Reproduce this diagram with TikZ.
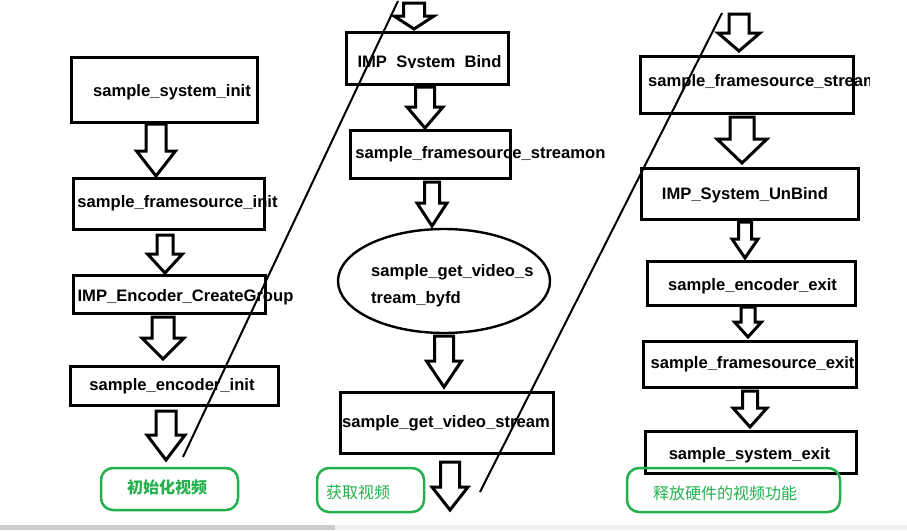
\documentclass[tikz,border=0pt]{standalone}
\usepackage{fontspec}
\newfontfamily\latinfont{Liberation Sans}
\newfontfamily\cjk{Noto Sans CJK SC}
\usepackage{tikz}
\usetikzlibrary{shapes.geometric}
\definecolor{paintgreen}{RGB}{34,177,76}
\tikzset{
 box/.style
  = {rectangle, draw, line width=3pt, inner sep=0pt},
 oval/.style
  = {ellipse, draw, line width=2.4pt, inner sep=0pt},
 txt/.style
  = {inner sep=0pt, anchor=base, font=\latinfont\bfseries\fontsize{16.6}{27}\selectfont},
 note/.style
  = {rectangle, draw=paintgreen, line width=2.5pt, rounded corners=12pt, inner sep=0pt},
 notetxt/.style
  = {inner sep=0pt, text=paintgreen, font=\cjk\fontsize{16}{18}\selectfont},
 arr/.style
  = {draw, line width=3pt, line join=miter, fill=white},
 slash/.style
  = {draw, line width=2pt},
}

\begin{document}
\begin{tikzpicture}[x=1pt,y=-1pt]
\useasboundingbox (0,0) rectangle (907,530);

% scroll bar
\fill[black!20] (0,525) rectangle (335,530);
\fill[black!6] (335,525) rectangle (907,530);

% Column 1
\node[box,minimum width=186pt,minimum height=65pt] (b1) at (164,89.5) {};
\node[txt] (t1) at (172,96.5) {sample\_system\_init};
\node[box,minimum width=191pt,minimum height=51pt] (b2) at (168.5,203.5) {};
\node[txt] (t2) at (177.5,207.5) {sample\_framesource\_init};
\node[box,minimum width=192pt,minimum height=38pt] (b3) at (169,294) {};
\node[txt] (t3) at (185.5,301) {IMP\_Encoder\_CreateGroup};
\node[box,minimum width=208pt,minimum height=39pt] (b4) at (174,385.5) {};
\node[txt] (t4) at (172,390) {sample\_encoder\_init};

% Column 2
\node[box,minimum width=162pt,minimum height=52pt] (m1) at (427,58) {};
\begin{scope}
  \clip (346,32) rectangle (508,67.5);
  \node[txt] (u1) at (429.5,67.5) {IMP\_System\_Bind};
\end{scope}
\node[box,minimum width=160pt,minimum height=48pt] (m2) at (430,154) {};
\node[txt] (u2) at (480.5,158) {sample\_framesource\_streamon};
\node[oval,minimum width=212pt,minimum height=104pt] (m3) at (444,281) {};
\node[txt,align=left,anchor=base west] (u3) at (371,303.5) {sample\_get\_video\_s\\tream\_byfd};
\node[box,minimum width=213pt,minimum height=61pt] (m4) at (446.5,422.5) {};
\node[txt] (u4) at (446,427.5) {sample\_get\_video\_stream};

% Column 3
\node[box,minimum width=213pt,minimum height=57pt] (r1) at (746.5,84.5) {};
\begin{scope}
  \clip (600,50) rectangle (869.5,120);
  \node[txt,anchor=base west] (v1) at (648,86) {sample\_framesource\_streamon};
\end{scope}
\node[box,minimum width=217pt,minimum height=51pt] (r2) at (749.5,193.5) {};
\node[txt] (v2) at (745,199) {IMP\_System\_UnBind};
\node[box,minimum width=208pt,minimum height=44pt] (r3) at (751,283) {};
\node[txt] (v3) at (752.5,290.5) {sample\_encoder\_exit};
\node[box,minimum width=213pt,minimum height=46pt] (r4) at (749.5,364) {};
\node[txt] (v4) at (752.5,368) {sample\_framesource\_exit};
\node[box,minimum width=211pt,minimum height=42pt] (r5) at (750.5,452) {};
\node[txt] (v5) at (749.5,459) {sample\_system\_exit};

% hollow arrows: name/x/top/head base/tip/shaft/head
\foreach \n/\x/\t/\b/\e/\s/\h in {
  a1/156/124/151/176/10/19.5, a2/165/235/254/273/8/17.5,
  a3/163/317/338/359/11/21, a4/166/411/435/460/10/19,
  c0/414/3/16/29/10.5/20, c1/425/87/107/128/9.5/18,
  c2/432/182/203/226/7.5/15, c3/444/336/361/387/9.5/17.5,
  c4/450/462/487/510/9.5/18,
  d0/739/14/33/51/10/21, d1/742/117/139/163/12/25,
  d2/745/222/239/258/6.5/13, d3/748/307/322/337/7/13.5,
  d4/750/391/408/427/7.5/17}
{
  \coordinate (\n top) at (\x,\t);
  \coordinate (\n tip) at (\x,\e);
  \draw[arr] (\x-\s,\t) -- (\x+\s,\t) -- (\x+\s,\b) -- (\x+\h,\b)
    -- (\n tip) -- (\x-\h,\b) -- (\x-\s,\b) -- cycle;
}

% green notes
\node[note,minimum width=137pt,minimum height=42pt] (g1) at (169.5,489) {};
\node[notetxt,font=\cjk\bfseries\fontsize{16}{18}\selectfont] (n1) at (167,487) {初始化视频};
\node[note,minimum width=107pt,minimum height=44pt] (g2) at (370.5,490) {};
\node[notetxt] (n2) at (358,492) {获取视频};
\node[note,minimum width=213pt,minimum height=44pt] (g3) at (733.5,490) {};
\node[notetxt] (n3) at (725,493) {释放硬件的视频功能};

% dividing strokes
\coordinate (s1a) at (398,1);
\coordinate (s1b) at (183,457);
\coordinate (s2a) at (722,13);
\coordinate (s2b) at (480,492);
\draw[slash] (s1a) -- (s1b);
\draw[slash] (s2a) -- (s2b);

\end{tikzpicture}
\end{document}
